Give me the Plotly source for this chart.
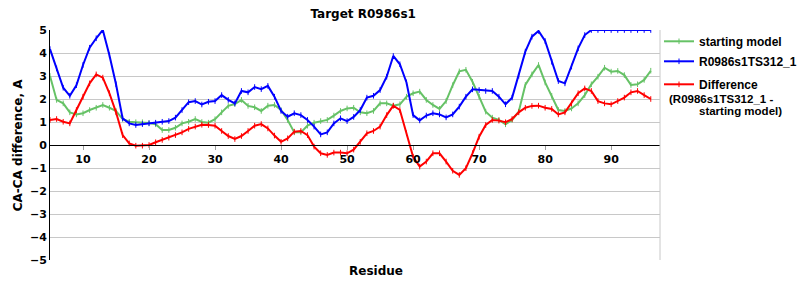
import plotly.graph_objects as go

residues = [5, 6, 7, 8, 9, 10, 11, 12, 13, 14, 15, 16, 17, 18, 19, 20, 21, 22, 23, 24,
            25, 26, 27, 28, 29, 30, 31, 32, 33, 34, 35, 36, 37, 38, 39, 40, 41, 42, 43, 44,
            45, 46, 47, 48, 49, 50, 51, 52, 53, 54, 55, 56, 57, 58, 59, 60, 61, 62, 63, 64,
            65, 66, 67, 68, 69, 70, 71, 72, 73, 74, 75, 76, 77, 78, 79, 80, 81, 82, 83, 84,
            85, 86, 87, 88, 89, 90, 91, 92, 93, 94, 95, 96]

starting_model = [3.0, 1.96, 1.81, 1.42, 1.33, 1.38, 1.52, 1.62, 1.74, 1.62,
                  1.48, 1.13, 1.01, 0.99, 0.99, 0.96, 0.9, 0.65, 0.65, 0.75,
                  0.94, 1.01, 1.13, 1.0, 0.97, 1.12, 1.42, 1.7, 1.78, 1.96,
                  1.7, 1.64, 1.48, 1.71, 1.74, 1.52, 1.09, 0.55, 0.55, 0.84,
                  0.97, 1.04, 1.09, 1.28, 1.48, 1.59, 1.62, 1.42, 1.38, 1.48,
                  1.81, 1.81, 1.71, 1.77, 2.1, 2.25, 2.32, 1.96, 1.74, 1.57,
                  1.91, 2.6, 3.2, 3.27, 2.75, 2.1, 1.45, 1.19, 1.09, 0.9,
                  1.09, 1.45, 2.61, 3.07, 3.48, 2.72, 2.14, 1.52, 1.48, 1.59,
                  1.81, 2.17, 2.64, 2.97, 3.36, 3.19, 3.22, 3.04, 2.61, 2.64,
                  2.83, 3.23]

model_ts312 = [4.17, 3.33, 2.49, 2.14, 2.6, 3.48, 4.23, 4.64, 5.0, 3.9,
               2.64, 1.16, 0.94, 0.87, 0.91, 0.94, 0.97, 1.01, 1.04, 1.19,
               1.52, 1.86, 1.91, 1.76, 1.88, 1.91, 2.17, 1.96, 1.81, 2.35,
               2.29, 2.52, 2.43, 2.57, 2.1, 1.48, 1.23, 1.38, 1.3, 1.09,
               0.8, 0.46, 0.55, 0.94, 1.16, 1.04, 1.22, 1.52, 2.06, 2.14,
               2.39, 2.97, 3.87, 3.51, 2.72, 1.3, 1.07, 1.28, 1.38, 1.33,
               1.2, 1.33, 1.67, 2.1, 2.42, 2.39, 2.35, 2.35, 2.1, 1.77,
               2.06, 3.01, 4.06, 4.71, 4.96, 4.52, 3.62, 2.78, 2.68, 3.41,
               4.2, 4.78, 5.0, 5.0, 5.0, 5.0, 5.0, 5.0, 5.0, 5.0,
               5.0, 5.0]

difference = [1.09, 1.13, 1.01, 0.94, 1.52, 2.1, 2.68, 3.07, 2.93, 2.25,
              1.42, 0.43, 0.07, -0.03, -0.03, 0.0, 0.12, 0.22, 0.32, 0.43,
              0.55, 0.7, 0.8, 0.88, 0.87, 0.84, 0.61, 0.39, 0.26, 0.39,
              0.61, 0.84, 0.91, 0.72, 0.41, 0.14, 0.29, 0.58, 0.61, 0.43,
              -0.07, -0.36, -0.43, -0.33, -0.33, -0.36, -0.2, 0.14, 0.51, 0.61,
              0.8, 1.3, 1.71, 1.52, 0.51, -0.51, -0.94, -0.72, -0.36, -0.36,
              -0.72, -1.12, -1.3, -1.01, -0.36, 0.36, 0.87, 1.09, 1.06, 0.99,
              1.13, 1.42, 1.62, 1.7, 1.71, 1.62, 1.57, 1.33, 1.42, 1.81,
              2.25, 2.46, 2.35, 1.91, 1.81, 1.77, 1.91, 2.06, 2.29, 2.35,
              2.17, 2.0]

x_ticks = [10, 20, 30, 40, 50, 60, 70, 80, 90]
y_ticks = [5, 4, 3, 2, 1, 0, -1, -2, -3, -4, -5]

BOLD = "DejaVu Sans"
LEG = "Liberation Sans"

fig = go.Figure()
series = [
    ("starting model", starting_model, "#66c266", "legend", 42),
    ("R0986s1TS312_1", model_ts312, "#0000ff", "legend2", 62),
    ("Difference", difference, "#ff0000", "legend3", 85),
]
legend_layout = {}
for name, vals, col, leg, ypix in series:
    fig.add_trace(go.Scatter(
        x=residues, y=vals, name=name, mode="lines+markers", legend=leg,
        line=dict(color=col, width=2),
        marker=dict(symbol="line-ns", size=4, line=dict(color=col, width=1), color=col),
    ))
    legend_layout[leg] = dict(
        x=(659 - 50) / 610, y=(260 - (ypix - 15)) / 230, xanchor="left", yanchor="top",
        font=dict(family=LEG, size=12, color="black", weight="bold"),
        bgcolor="rgba(0,0,0,0)", borderwidth=0, valign="top", itemwidth=30)

fig.update_layout(
    width=800, height=300,
    margin=dict(l=50, r=140, t=30, b=40, autoexpand=False),
    paper_bgcolor="white", plot_bgcolor="white",
    showlegend=True,
    title=dict(text="<b>Target R0986s1</b>", x=0.454, xref="container",
               y=0.953, yref="container", xanchor="center", yanchor="middle",
               font=dict(family=BOLD, size=12, color="black")),
    xaxis=dict(range=[5, 97.4], tickvals=x_ticks, ticktext=[str(t) for t in x_ticks],
               showgrid=False, zeroline=False, showline=True, linecolor="black",
               linewidth=1, anchor="free", position=0.5, ticks="outside",
               ticklen=4, tickcolor="#a0a0a0",
               tickfont=dict(family=BOLD, size=11, color="black", weight="bold")),
    yaxis=dict(range=[-5, 5], tickvals=y_ticks, showgrid=True, gridcolor="#c8c8c8",
               gridwidth=1, zeroline=False, showline=True, linecolor="black",
               linewidth=1, ticks="",
               tickfont=dict(family=BOLD, size=11, color="black", weight="bold")),
    **legend_layout,
)

fig.add_shape(type="line", xref="paper", yref="paper", x0=1, x1=1, y0=0, y1=1,
              line=dict(color="#c8c8c8", width=1))

fig.add_annotation(text="<b>Residue</b>", xref="paper", yref="paper", x=0.534, y=-0.048,
                   showarrow=False, xanchor="center", yanchor="middle",
                   font=dict(family=BOLD, size=12, color="black"))
fig.add_annotation(text="<b>CA-CA difference, A</b>", xref="paper", yref="paper",
                   x=-0.052, y=0.5, textangle=-90, showarrow=False,
                   xanchor="center", yanchor="middle",
                   font=dict(family=BOLD, size=12, color="black"))
fig.add_annotation(text="<b>(R0986s1TS312_1 -</b>", xref="paper", yref="paper",
                   x=(667 - 50) / 610, y=(260 - 99) / 230, showarrow=False,
                   xanchor="left", yanchor="middle",
                   font=dict(family=LEG, size=11.5, color="black"))
fig.add_annotation(text="<b>starting model)</b>", xref="paper", yref="paper",
                   x=(697 - 50) / 610, y=(260 - 111) / 230, showarrow=False,
                   xanchor="left", yanchor="middle",
                   font=dict(family=LEG, size=11.5, color="black"))

fig.write_html("out.html")
